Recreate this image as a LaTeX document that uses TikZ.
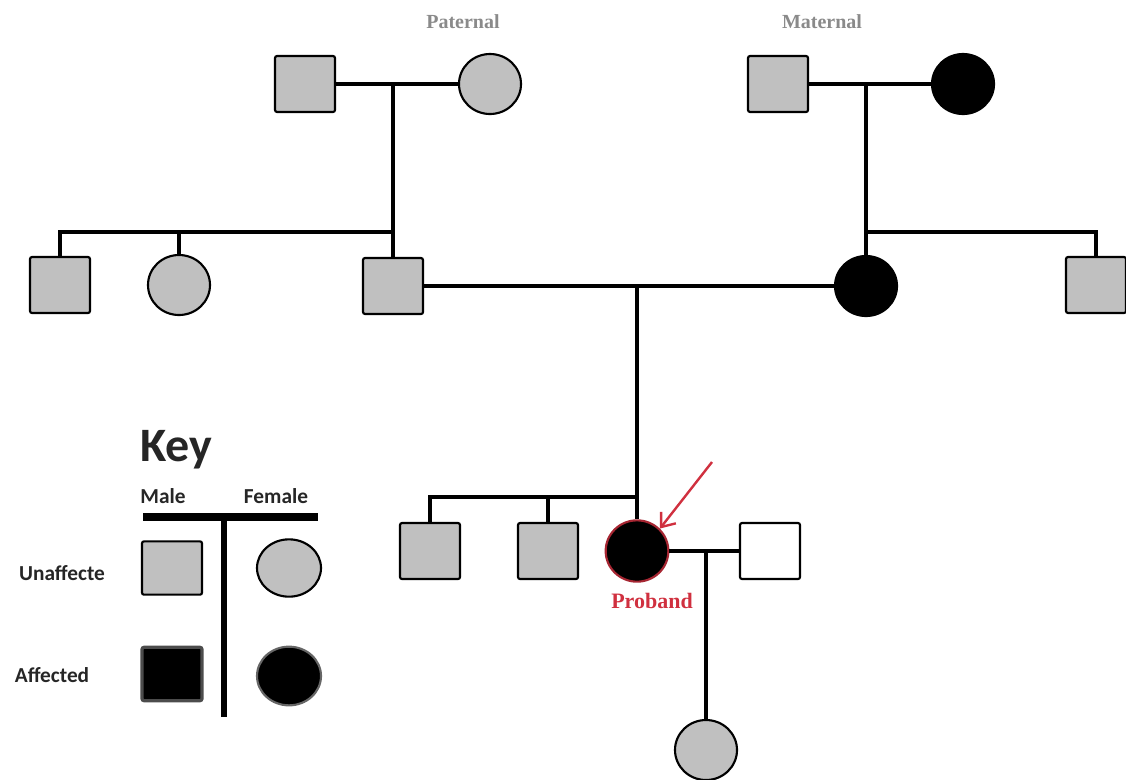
\documentclass[tikz,border=0pt]{standalone}
\usepackage{fontspec}
\setmainfont{Liberation Serif}
\newfontfamily\keyfont{Carlito}
\usetikzlibrary{shapes.geometric,arrows.meta}
\definecolor{gfill}{HTML}{C0C0C0}
\definecolor{lblgray}{HTML}{8A8A8A}
\definecolor{probred}{HTML}{D0303F}
\begin{document}
\begin{tikzpicture}[x=0.75pt,y=-0.75pt,
  person/.style={draw=black, line width=1.6pt, fill=gfill, inner sep=0pt},
  male/.style={person, rectangle, rounded corners=1.5pt, minimum width=45pt, minimum height=42pt},
  female/.style={person, ellipse, minimum width=46.5pt, minimum height=45pt},
  aff/.style={fill=black},
  link/.style={line width=3pt},
  gen/.style={font=\bfseries\fontsize{15}{18}\selectfont, text=lblgray},
  keytxt/.style={font=\keyfont\bfseries\fontsize{16}{19}\selectfont, text=black!85}
]
\useasboundingbox (0,0) rectangle (1126,779);

% Generation I
\node[gen] (plab) at (463,22) {Paternal};
\node[gen] (mlab) at (822,22) {Maternal};
\node[male] (pgf) at (305,84) {};
\node[female] (pgm) at (490,84) {};
\node[male] (mgf) at (778,84) {};
\node[female,aff] (mgm) at (963,84) {};
\coordinate (patmid) at (393,84);
\coordinate (matmid) at (866,84);
\coordinate (patbar) at (393,232);
\coordinate (matbar) at (866,232);

% Generation II
\node[male] (s1) at (60,285) {};
\node[female] (s2) at (179,285) {};
\node[male] (father) at (393,286) {};
\node[female,aff] (mother) at (866,286) {};
\node[male] (u1) at (1096,285) {};
\coordinate (parmid) at (637,286);
\coordinate (kidbar) at (637,497);

% Generation III
\node[male] (c1) at (430,551) {};
\node[male] (c2) at (548,551) {};
\node[female,aff,draw=probred!80!black, minimum width=47pt, minimum height=46pt] (proband) at (637,551) {};
\node[male,fill=white] (spouse) at (770,551) {};
\node[font=\bfseries\fontsize{16.5}{19}\selectfont, text=probred] (plabel) at (652,601) {Proband};
\coordinate (sm) at (706,551);
\coordinate (arrstart) at (712,462);

% Generation IV
\node[female] (gc) at (706,750) {};

% connectors
\draw[link] (pgf) -- (pgm);
\draw[link] (mgf) -- (mgm);
\draw[link] (patmid) -- (father.north);
\draw[link] (s1.north) |- (patbar);
\draw[link] (s2.north) -- (s2.north |- patbar);
\draw[link] (matmid) -- (mother.north);
\draw[link] (matbar) -| (u1.north);
\draw[link] (father.east) -- (mother.west);
\draw[link] (parmid) -- (proband.north);
\draw[link] (c1.north) |- (kidbar);
\draw[link] (c2.north) -- (c2.north |- kidbar);
\draw[link] (proband.east) -- (spouse.west);
\draw[link] (sm) -- (gc.north);
\draw[probred, line width=1.8pt, -{Straight Barb[length=9pt,width=14pt]}] (arrstart) -- (proband.north east);

% Key
\node[font=\keyfont\bfseries\fontsize{36}{40}\selectfont, text=black!85] (keyt) at (176,450) {Key};
\node[keytxt] (kmale) at (163,496) {Male};
\node[keytxt] (kfemale) at (276,496) {Female};
\node[keytxt] (kun) at (62,573) {Unaffecte};
\node[keytxt] (kaf) at (52,675) {Affected};
\draw[line width=6pt] (143,517) -- (318,517);
\draw[line width=4pt] (224,517) -- (224,717);
\node[male, minimum width=45pt, minimum height=40pt] (k1) at (172,568) {};
\node[female, minimum width=48pt, minimum height=43pt] (k2) at (289,568) {};
\node[male, aff, minimum width=45pt, minimum height=40pt, draw=black!70, double=black!70, double distance=0.8pt, line width=0.8pt] (k3) at (172,674) {};
\node[female, aff, draw=black!60, minimum width=48pt, minimum height=44pt] (k4) at (289,676) {};
\end{tikzpicture}
\end{document}
